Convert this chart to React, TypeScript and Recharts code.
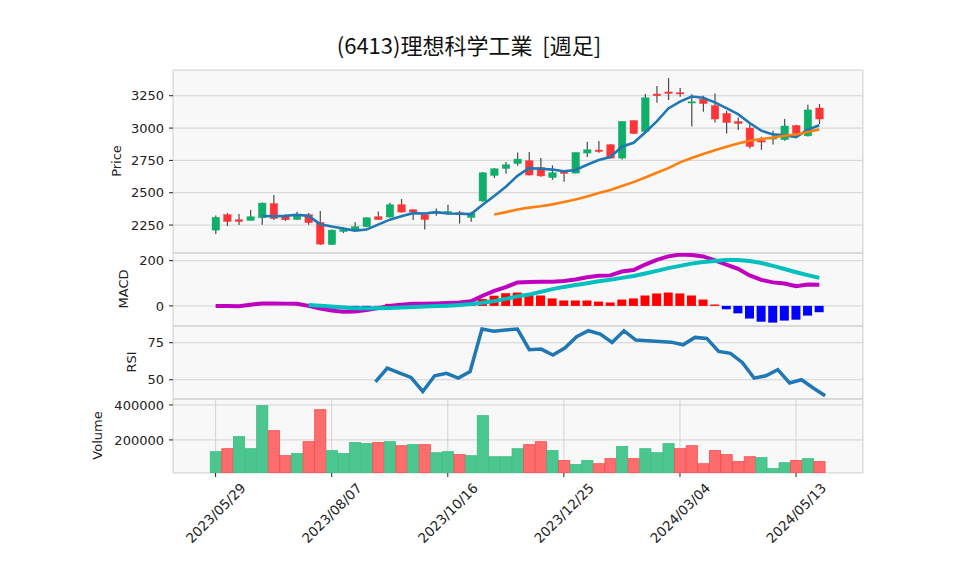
import React from 'react'
import { ComposedChart, Bar, Line, XAxis, YAxis, CartesianGrid } from 'recharts'

// weekly bars, 6413 理想科学工業
const dates = [
  '2023/05/29', '2023/06/05', '2023/06/12', '2023/06/19', '2023/06/26', '2023/07/03', '2023/07/10',
  '2023/07/17', '2023/07/24', '2023/07/31', '2023/08/07', '2023/08/14', '2023/08/21', '2023/08/28',
  '2023/09/04', '2023/09/11', '2023/09/18', '2023/09/25', '2023/10/02', '2023/10/09', '2023/10/16',
  '2023/10/23', '2023/10/30', '2023/11/06', '2023/11/13', '2023/11/20', '2023/11/27', '2023/12/04',
  '2023/12/11', '2023/12/18', '2023/12/25', '2024/01/01', '2024/01/08', '2024/01/15', '2024/01/22',
  '2024/01/29', '2024/02/05', '2024/02/12', '2024/02/19', '2024/02/26', '2024/03/04', '2024/03/11',
  '2024/03/18', '2024/03/25', '2024/04/01', '2024/04/08', '2024/04/15', '2024/04/22', '2024/04/29',
  '2024/05/06', '2024/05/13', '2024/05/20', '2024/05/27',
]
const dateTicks = ['2023/05/29', '2023/08/07', '2023/10/16', '2023/12/25', '2024/03/04', '2024/05/13']

const opens = [
  2211, 2330, 2291, 2286, 2306, 2415, 2316, 2293, 2330, 2270, 2100, 2200, 2211, 2237, 2314, 2312, 2407,
  2368, 2330, 2345, 2350, 2345, 2309, 2436, 2634, 2688, 2726, 2747, 2695, 2618, 2670, 2652, 2807, 2830,
  2871, 2768, 3057, 2974, 3263, 3279, 3273, 3198, 3224, 3173, 3113, 3050, 3000, 2904, 2915, 2910, 3018,
  2940, 3155,
]
const highs = [
  2324, 2343, 2335, 2366, 2425, 2482, 2332, 2353, 2343, 2358, 2215, 2220, 2273, 2310, 2355, 2422, 2451,
  2372, 2335, 2378, 2407, 2360, 2353, 2660, 2690, 2737, 2811, 2815, 2768, 2711, 2672, 2811, 2894, 2900,
  2875, 3055, 3060, 3263, 3325, 3387, 3310, 3262, 3250, 3268, 3134, 3082, 3031, 2933, 2980, 3070, 3025,
  3180, 3186,
]
const lows = [
  2180, 2242, 2250, 2286, 2252, 2289, 2281, 2289, 2252, 2095, 2095, 2188, 2205, 2233, 2289, 2308, 2345,
  2289, 2216, 2322, 2330, 2262, 2276, 2430, 2613, 2647, 2709, 2633, 2623, 2600, 2585, 2648, 2776, 2810,
  2765, 2757, 2955, 2970, 3196, 3217, 3242, 3012, 3126, 3043, 2958, 2985, 2842, 2832, 2873, 2902, 2950,
  2935, 3031,
]
const closes = [
  2309, 2278, 2278, 2314, 2420, 2301, 2291, 2324, 2268, 2103, 2211, 2216, 2237, 2306, 2293, 2407, 2351,
  2351, 2293, 2350, 2355, 2335, 2340, 2654, 2685, 2716, 2760, 2637, 2630, 2654, 2650, 2811, 2832, 2819,
  2768, 3051, 2958, 3234, 3250, 3268, 3265, 3203, 3190, 3070, 3043, 3036, 2858, 2892, 2925, 3016, 2960,
  3140, 3070,
]
const ma5 = [
  null, null, null, null, 2320, 2318, 2321, 2330, 2321, 2257, 2239, 2224, 2207, 2215, 2253, 2292, 2319,
  2342, 2339, 2350, 2340, 2337, 2335, 2407, 2474, 2546, 2631, 2690, 2686, 2679, 2666, 2676, 2716, 2753,
  2776, 2856, 2886, 2966, 3052, 3152, 3205, 3244, 3235, 3199, 3154, 3108, 3039, 2980, 2951, 2945, 2930,
  2987, 3022,
]
const ma25 = [
  null, null, null, null, null, null, null, null, null, null, null, null, null, null, null, null, null,
  null, null, null, null, null, null, null, 2332, 2350, 2370, 2385, 2395, 2410, 2428, 2448, 2470, 2498,
  2522, 2552, 2582, 2618, 2655, 2690, 2735, 2768, 2800, 2828, 2855, 2880, 2902, 2915, 2927, 2940, 2950,
  2970, 2990,
]
const macd = [
  0, -1, -2, 5, 11, 11, 10, 9, 0, -12, -21, -26, -25, -18, -10, 0, 5, 9, 10, 11, 13, 15, 20, 45, 66, 83,
  104, 106, 107, 107, 110, 117, 127, 133, 135, 152, 159, 183, 204, 219, 227, 225, 219, 201, 183, 164,
  135, 115, 104, 99, 87, 95, 93,
]
const signal = [
  null, null, null, null, null, null, null, null, 4, 1, -3, -7, -10, -11, -11, -9, -7, -5, -3, -1, 1, 4,
  8, 14, 21, 31, 42, 50, 62, 74, 84, 92, 100, 109, 116, 124, 132, 143, 155, 167, 177, 187, 194, 199, 203,
  203, 199, 190, 177, 163, 149, 136, 124,
]
const hist = [
  null, null, null, null, null, null, null, null, -2, -8, -12, -12, -10, -6, -1, 9, 13, 15, 12, 11, 11,
  10, 12, 30, 45, 56, 59, 49, 46, 33, 24, 24, 24, 19, 15, 28, 33, 46, 55, 59, 55, 46, 28, 6, -15, -33,
  -56, -70, -74, -65, -61, -43, -28,
]
const rsi = [
  null, null, null, null, null, null, null, null, null, null, null, null, null, null, 48.6, 57.9, 54.7,
  51.6, 42.1, 52.7, 54.3, 51.1, 55.6, 84.3, 82.7, 83.6, 84.2, 70.3, 70.7, 66.7, 71.4, 79.1, 83.1, 80.9,
  75.2, 83.1, 76.8, 76.4, 75.9, 75.4, 73.6, 78.6, 77.9, 69.1, 67.8, 61.7, 51.1, 52.7, 56.8, 47.8, 50,
  44.4, 39.2,
]
const volumes = [
  133000, 150000, 219000, 150000, 396000, 253000, 110000, 122000, 190000, 373000, 139000, 122000, 185000,
  179000, 185000, 190000, 167000, 173000, 173000, 127000, 133000, 116000, 110000, 339000, 104000, 104000,
  150000, 173000, 190000, 139000, 82000, 59000, 82000, 64000, 93000, 162000, 93000, 150000, 127000,
  179000, 150000, 167000, 64000, 139000, 116000, 76000, 104000, 99000, 36000, 70000, 82000, 93000, 76000,
]

const priceTicks = [2250, 2500, 2750, 3000, 3250]
const macdTicks = [0, 200]
const rsiTicks = [50, 75]
const volumeTicks = [200000, 400000]

const rows = dates.map((date, i) => ({
  date,
  open: opens[i],
  high: highs[i],
  low: lows[i],
  close: closes[i],
  range: [lows[i], highs[i]],
  ma5: ma5[i],
  ma25: ma25[i],
  macd: macd[i],
  signal: signal[i],
  hist: hist[i],
  rsi: rsi[i],
  volume: volumes[i],
  volUp: i === 0 ? closes[i] >= opens[i] : closes[i] >= closes[i - 1],
}))

const UP = '#0fae69'
const DOWN = '#fe3436'
const WICK = '#4a4a4a'
const GRID = '#d3d3d3'
const TEXT = '#222222'
const FONT = 'DejaVu Sans'

const W = 958
const AXIS_W = 173
const RIGHT = 95
const PAD = 12
const X_PAD = { left: 36.8, right: 37.9 }

const panels = {
  price: { top: 69.5, h: 183 },
  macd: { top: 252.5, h: 73 },
  rsi: { top: 325.5, h: 73 },
  volume: { top: 398.5, h: 74 },
}

function Candle(props: any) {
  const { x, y, width, height, payload } = props
  if (!payload) return null
  const top = Math.min(y, y + height)
  const h = Math.abs(height)
  const { open, close, high, low } = payload
  const k = high > low ? h / (high - low) : 0
  const py = (v: number) => top + (high - v) * k
  const color = close >= open ? UP : DOWN
  const cx = x + width / 2
  const bw = width * 0.62
  const y1 = py(Math.max(open, close))
  const y2 = py(Math.min(open, close))
  return (
    <g>
      <line x1={cx} x2={cx} y1={top} y2={top + h} stroke={WICK} strokeWidth={1.2} />
      <rect x={cx - bw / 2} y={y1} width={bw} height={Math.max(y2 - y1, 1.2)} fill={color} stroke={color} strokeWidth={0.5} />
    </g>
  )
}

function HistBar(props: any) {
  const { x, y, width, height, payload } = props
  if (!payload || payload.hist == null) return null
  const top = Math.min(y, y + height)
  const h = Math.abs(height)
  return <rect x={x} y={top} width={width} height={h} fill={payload.hist >= 0 ? '#ff0000' : '#0000ff'} />
}

function VolBar(props: any) {
  const { x, y, width, height, payload } = props
  if (!payload) return null
  const top = Math.min(y, y + height)
  const h = Math.abs(height)
  const up = payload.volUp
  return (
    <rect
      x={x + 0.4}
      y={top}
      width={width - 0.8}
      height={h}
      fill={up ? '#4bc68e' : '#fd6d6e'}
      stroke={up ? '#3dbd84' : '#f84a4c'}
      strokeWidth={0.8}
    />
  )
}

function DateTick(props: any) {
  const { x, y, payload } = props
  return (
    <g transform={`translate(${x},${y + 34})`}>
      <text transform="rotate(-45)" textAnchor="middle" dominantBaseline="central" fontSize={13.5} fill={TEXT} fontFamily={FONT}>
        {payload.value}
      </text>
    </g>
  )
}

const yTick = { fontSize: 13, fill: TEXT, fontFamily: FONT }

function HiddenX() {
  return (
    <XAxis
      dataKey="date"
      type="category"
      ticks={dateTicks}
      padding={X_PAD}
      height={0}
      tick={false}
      tickLine={false}
      axisLine={false}
    />
  )
}

function PanelY({ domain, ticks }: { domain: number[]; ticks: number[] }) {
  return (
    <YAxis
      type="number"
      domain={domain}
      ticks={ticks}
      allowDataOverflow
      width={AXIS_W}
      tickSize={4}
      tickMargin={5}
      axisLine={false}
      tickLine={{ stroke: TEXT }}
      tick={yTick}
    />
  )
}

export default function App() {
  const box = (p: { top: number; h: number }) => ({
    position: 'absolute' as const,
    left: 0,
    top: p.top - PAD,
    width: W,
    height: p.h + PAD * 2,
  })
  const margin = { top: PAD, right: RIGHT, bottom: PAD, left: 0 }

  return (
    <div style={{ position: 'absolute', left: 0, top: 0, width: W, height: 575, background: '#fff', overflow: 'hidden' }}>
      {/* panel backgrounds */}
      {Object.values(panels).map((p, i) => (
        <div
          key={i}
          style={{
            position: 'absolute',
            left: AXIS_W,
            top: p.top,
            width: W - AXIS_W - RIGHT,
            height: p.h,
            background: '#f8f8f8',
            boxSizing: 'border-box',
            border: '1px solid #eeeeee',
          }}
        />
      ))}

      <div style={box(panels.price)}>
        <ComposedChart width={W} height={panels.price.h + PAD * 2} data={rows} margin={margin} barCategoryGap={0}>
          <CartesianGrid stroke={GRID} />
          {HiddenX()}
          {PanelY({ domain: [2034, 3449], ticks: priceTicks })}
          <Bar dataKey="range" shape={(p: any) => <Candle {...p} />} isAnimationActive={false} />
          <Line type="linear" dataKey="ma5" stroke="#1f77b4" strokeWidth={2.6} dot={false} isAnimationActive={false} />
          <Line type="linear" dataKey="ma25" stroke="#ff7f0e" strokeWidth={2.6} dot={false} isAnimationActive={false} />
        </ComposedChart>
      </div>

      <div style={box(panels.macd)}>
        <ComposedChart width={W} height={panels.macd.h + PAD * 2} data={rows} margin={margin} barCategoryGap="10%">
          <CartesianGrid stroke={GRID} />
          {HiddenX()}
          {PanelY({ domain: [-89, 234], ticks: macdTicks })}
          <Bar dataKey="hist" shape={(p: any) => <HistBar {...p} />} isAnimationActive={false} />
          <Line type="linear" dataKey="macd" stroke="#bf00bf" strokeWidth={4} dot={false} isAnimationActive={false} />
          <Line type="linear" dataKey="signal" stroke="#00bfbf" strokeWidth={4} dot={false} isAnimationActive={false} />
        </ComposedChart>
      </div>

      <div style={box(panels.rsi)}>
        <ComposedChart width={W} height={panels.rsi.h + PAD * 2} data={rows} margin={margin}>
          <CartesianGrid stroke={GRID} />
          {HiddenX()}
          {PanelY({ domain: [37, 86.3], ticks: rsiTicks })}
          <Line type="linear" dataKey="rsi" stroke="#1f77b4" strokeWidth={3.5} dot={false} isAnimationActive={false} />
        </ComposedChart>
      </div>

      <div style={{ ...box(panels.volume), height: PAD + panels.volume.h + 102.5 }}>
        <ComposedChart
          width={W}
          height={PAD + panels.volume.h + 102.5}
          data={rows}
          margin={{ top: PAD, right: RIGHT, bottom: 0, left: 0 }}
          barCategoryGap={0}
        >
          <CartesianGrid stroke={GRID} />
          <XAxis
            dataKey="date"
            type="category"
            ticks={dateTicks}
            padding={X_PAD}
            height={102.5}
            tickSize={4}
            axisLine={false}
            tickLine={{ stroke: TEXT }}
            tick={(p: any) => <DateTick {...p} />}
          />
          {PanelY({ domain: [11000, 434000], ticks: volumeTicks })}
          <Bar dataKey="volume" shape={(p: any) => <VolBar {...p} />} isAnimationActive={false} />
        </ComposedChart>
      </div>

      {/* title and axis titles */}
      <svg width={W} height={575} style={{ position: 'absolute', left: 0, top: 0, pointerEvents: 'none' }}>
        <text
          x={469}
          y={54}
          textAnchor="middle"
          fontSize={22}
          fill="#111"
          fontFamily="'Noto Sans CJK JP', sans-serif"
          style={{ whiteSpace: 'pre' }}
        >
          {'(6413)理想科学工業  [週足]'}
        </text>
        {[
          { t: 'Price', x: 116, y: panels.price.top + panels.price.h / 2 },
          { t: 'MACD', x: 123, y: panels.macd.top + panels.macd.h / 2 },
          { t: 'RSI', x: 131, y: panels.rsi.top + panels.rsi.h / 2 },
          { t: 'Volume', x: 97, y: panels.volume.top + panels.volume.h / 2 },
        ].map((a) => (
          <text
            key={a.t}
            x={a.x}
            y={a.y}
            transform={`rotate(-90 ${a.x} ${a.y})`}
            textAnchor="middle"
            dominantBaseline="central"
            fontSize={13}
            fill={TEXT}
            fontFamily={FONT}
          >
            {a.t}
          </text>
        ))}
      </svg>
    </div>
  )
}
